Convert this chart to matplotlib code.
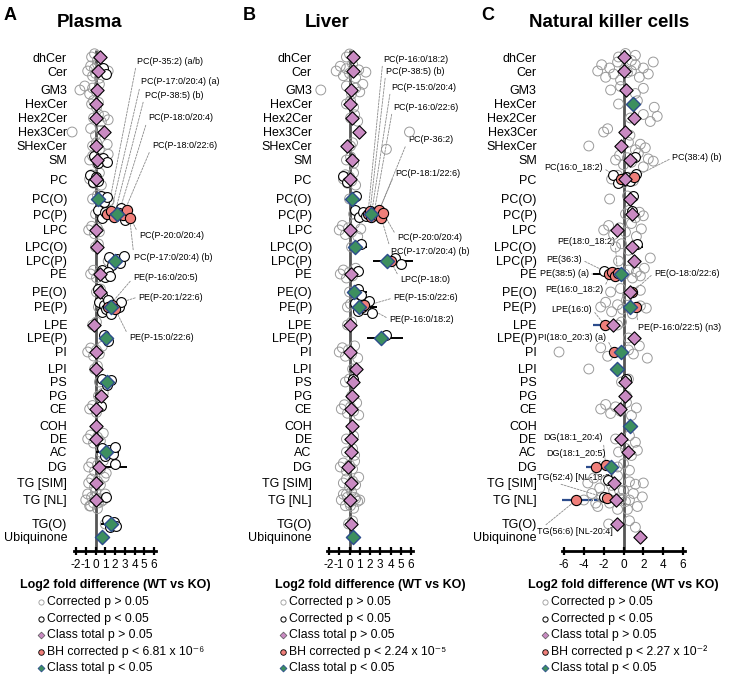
import matplotlib
matplotlib.use('Agg')
import matplotlib.pyplot as plt

plt.rcParams['font.family'] = ['Liberation Sans', 'DejaVu Sans']

# lipid classes (same order in every panel)
classes = ['dhCer', 'Cer', 'GM3', 'HexCer', 'Hex2Cer', 'Hex3Cer', 'SHexCer', 'SM',
           'PC', 'PC(O)', 'PC(P)', 'LPC', 'LPC(O)', 'LPC(P)', 'PE', 'PE(O)', 'PE(P)',
           'LPE', 'LPE(P)', 'PI', 'LPI', 'PS', 'PG', 'CE', 'COH', 'DE', 'AC', 'DG',
           'TG [SIM]', 'TG [NL]', 'TG(O)', 'Ubiquinone']
# row layout (uneven spacing, as in the original figure)
row_y = [57, 71, 90, 104, 118, 132, 146, 160, 179, 199, 214, 230, 247, 261, 274, 292,
         307, 325, 338, 352, 369, 382, 396, 409, 426, 439, 452, 467, 483, 500, 524, 537]

# ---------------- Plasma ----------------
plasma_ns = [[-0.4, -0.1, 0.2], [-0.8, -0.5, -0.3, -0.1, 0.0, 0.2, 0.4, 0.6, 0.9, 1.3],
             [-1.6, -1.1, -0.6, -0.3, 0.1, 0.4], [-0.4, -0.2, 0.1, 0.3], [-0.2, 0.3, 0.6, 0.9, 1.3],
             [-2.4, -0.5, 0.0, 0.6], [-0.3, 0.1, 0.4, 1.2], [-0.6, -0.3, 0.2, 0.6, 1.0, 1.3],
             [-0.6, -0.4, -0.2, 0.0, 0.2, 0.4, 0.6], [-0.3, 0.2, 0.6, 1.0, 1.4], [0.0, 0.4],
             [-0.7, -0.4, -0.1, 0.2, 0.4], [0.0, 0.3], [1.3], [-0.5, -0.2, 0.1, 0.4, 0.7],
             [0.1, 0.5], [0.3, 0.5], [-0.3, 0.1], [], [-0.8, -0.5, -0.2, 0.1, 0.4, 0.7],
             [-0.1, 0.2], [0.4], [0.3, 0.8], [-0.6, -0.3, 0.1, 0.3], [],
             [-0.8, -0.5, -0.2, 0.2, 0.5, 0.8], [0.5], [-0.7, -0.4, -0.1, 0.2, 0.5, 0.8, 1.1],
             [-0.7, -0.4, -0.1, 0.2, 0.5, 0.9],
             [-1.0, -0.8, -0.6, -0.4, -0.2, 0.0, 0.2, 0.4, 0.6, 0.8, 1.0, -0.5, -0.1, 0.3],
             [1.0], []]
plasma_sig = {'Cer': [0.8, 1.1], 'SM': [-0.2, 0.3, 0.8, 1.2], 'PC': [-0.6, -0.3, 0.0, 0.3],
              'PC(O)': [0.6, 0.9, 1.2], 'PC(P)': [0.3, 0.7, 1.0, 2.0, 2.6, 3.0],
              'LPC(P)': [1.4, 1.7, 2.2, 2.5, 2.9], 'PE': [0.7, 1.0, 1.3, 1.5], 'PE(O)': [0.3, 0.7],
              'PE(P)': [0.4, 0.7, 0.9, 1.1, 1.3, 1.6, 1.9, 2.1, 2.4, 2.6], 'LPE(P)': [0.9, 1.3],
              'PS': [0.7, 1.2, 1.6], 'CE': [0.6], 'AC': [0.7, 1.0, 1.4, 1.8, 2.0], 'DG': [2.0],
              'TG [NL]': [1.1], 'TG(O)': [1.2, 1.5, 1.9, 2.1]}
plasma_bh = {'PC(P)': [1.2, 1.6, 1.9, 2.4, 2.8, 3.2, 3.5], 'PE(P)': [1.3, 1.7, 2.0]}
plasma_total = [0.45, 0.25, 0.2, 0.1, 0.05, 0.85, 0.0, 0.15, 0.0, 0.3, 2.25, 0.0, 0.15, 1.95,
                0.45, 0.5, 1.6, -0.2, 1.05, 0.0, 0.0, 1.15, 0.6, 0.0, 0.05, 0.0, 1.1, 0.35,
                0.0, 0.1, 1.6, 0.7]
plasma_total_sig = ['PC(O)', 'PC(P)', 'LPC(P)', 'PE(P)', 'LPE(P)', 'PS', 'AC', 'TG(O)', 'Ubiquinone']
plasma_err = [('AC', 1.2, 1.2), ('DG', 2.0, 1.2), ('TG(O)', 1.6, 1.05)]
plasma_bh_err = []
plasma_labels = [('PC(P-35:2) (a/b)', 'PC(P)', 1.2, 137, 61, 'left'),
                 ('PC(P-17:0/20:4) (a)', 'PC(P)', 1.6, 141, 82, 'left'),
                 ('PC(P-38:5) (b)', 'PC(P)', 1.9, 145, 95, 'left'),
                 ('PC(P-18:0/20:4)', 'PC(P)', 2.4, 148, 118, 'left'),
                 ('PC(P-18:0/22:6)', 'PC(P)', 2.8, 152, 146, 'left'),
                 ('PC(P-20:0/20:4)', 'PC(P)', 3.2, 139, 235, 'left'),
                 ('PC(P-17:0/20:4) (b)', 'PC(P)', 3.5, 134, 257, 'left'),
                 ('PE(P-16:0/20:5)', 'PE(P)', 1.3, 133, 278, 'left'),
                 ('PE(P-20:1/22:6)', 'PE(P)', 1.7, 138, 297, 'left'),
                 ('PE(P-15:0/22:6)', 'PE(P)', 2.0, 129, 337, 'left')]

# ---------------- Liver ----------------
liver_ns = [[-0.3, 0.0], [-1.3, -0.9, -0.6, -0.3, 0.0, 0.3, 0.6, 0.9, 1.6],
            [-2.8, -0.3, 0.2, 0.6, 1.0, 1.3], [-0.3, 0.1, 0.4], [0.1, 0.5, 0.8], [5.85],
            [0.1, 0.3, 3.6], [-0.3, 0.1, 0.4], [-0.6, -0.4, -0.2, 0.0, 0.2, 0.4, 0.6], [0.0],
            [0.4], [-1.0, -0.7, -0.4, -0.1, 0.2, 0.5, 0.8, 1.1], [0.2], [],
            [-0.9, -0.6, -0.3, 0.0, 0.3, 0.6], [0.0], [-0.2, 0.1], [-0.2, 0.2], [],
            [-1.0, -0.7, -0.4, -0.1, 0.2, 0.5, 0.8], [0.3], [-0.4, 0.0], [0.2],
            [-0.8, -0.5, -0.2, 0.1, 0.4, 0.7, 0.9], [], [-0.3, 0.4], [-0.3, 0.3, 0.5],
            [-0.9, -0.6, -0.3, 0.0, 0.3, 0.5], [-0.6, -0.3, 0.0, 0.3, 0.6, 0.9],
            [-0.8, -0.6, -0.4, -0.2, 0.0, 0.2, 0.4, 0.6, 0.8, 1.0, -0.3, 0.1, 0.5],
            [-0.1, 0.3], []]
liver_sig = {'PC': [-0.65, -0.2], 'PC(O)': [0.6], 'PC(P)': [0.5, 0.9, 1.3, 1.6],
             'LPC(O)': [1.1], 'LPC(P)': [4.4, 5.0], 'PE': [0.8], 'PE(O)': [0.8, 1.1],
             'PE(P)': [0.5, 0.8, 1.1, 1.5, 1.9, 2.2], 'LPE(P)': [3.6], 'PS': [0.3]}
liver_bh = {'PC(P)': [1.8, 2.0, 2.1, 2.4, 2.7, 2.9, 3.1, 3.3], 'LPC(P)': [4.0], 'PE(P)': [1.2, 1.4]}
liver_total = [0.33, 0.33, 0.15, 0.0, 0.2, 0.9, -0.25, 0.2, 0.0, 0.25, 2.05, 0.0, 0.5, 3.7,
               0.1, 0.45, 0.9, 0.0, 3.1, 0.0, 0.6, 0.3, 0.25, 0.1, 0.2, 0.15, 0.1, -0.15,
               0.1, 0.0, 0.15, 0.3]
liver_total_sig = ['PC(O)', 'PC(P)', 'LPC(O)', 'LPC(P)', 'PE(O)', 'PE(P)', 'LPE(P)', 'Ubiquinone']
liver_err = [('LPC(O)', 1.2, 0.5), ('LPC(P)', 4.3, 2.0), ('PE(O)', 1.1, 0.6),
             ('PE(P)', 1.6, 1.1), ('LPE(P)', 3.45, 1.75)]
liver_bh_err = []
liver_labels = [('PC(P-16:0/18:2)', 'PC(P)', 1.8, 383, 59, 'left'),
                ('PC(P-38:5) (b)', 'PC(P)', 2.0, 386, 71, 'left'),
                ('PC(P-15:0/20:4)', 'PC(P)', 2.1, 391, 87, 'left'),
                ('PC(P-16:0/22:6)', 'PC(P)', 2.4, 393, 107, 'left'),
                ('PC(P-36:2)', 'PC(P)', 2.7, 408, 140, 'left'),
                ('PC(P-18:1/22:6)', 'PC(P)', 2.9, 395, 173, 'left'),
                ('PC(P-20:0/20:4)', 'PC(P)', 3.3, 397, 237, 'left'),
                ('PC(P-17:0/20:4) (b)', 'PC(P)', 3.1, 391, 251, 'left'),
                ('LPC(P-18:0)', 'LPC(P)', 4.0, 400, 279, 'left'),
                ('PE(P-15:0/22:6)', 'PE(P)', 1.2, 393, 298, 'left'),
                ('PE(P-16:0/18:2)', 'PE(P)', 1.4, 389, 319, 'left')]

# ---------------- Natural killer cells ----------------
nk_ns = [[-0.5, 0.2, 0.8, 1.2],
         [-2.6, -2.2, -1.8, -1.4, -1.0, -0.6, -0.3, 0.1, 0.4, 0.8, 1.2, 1.6, 2.0, 2.5, 3.0],
         [-1.3, -0.3, 1.2, 2.0], [-0.5, 1.4, 3.1], [0.7, 2.0, 2.7, 3.4], [-2.0, -1.6, 0.65],
         [-3.5, 0.5, 1.2, 1.7, 2.2], [-0.8, -0.4, 0.0, 0.4, 0.8, 1.5, 2.0, 2.5, 3.0],
         [-1.2, -0.6, 0.0, 0.5, 1.0], [-1.4, 0.4], [0.2, 0.6, 1.2, 1.6, 2.0],
         [-2.0, -1.5, -1.0, -0.4, 0.2, 0.8, 1.3, 1.8], [-0.8, -0.2, 0.5], [-0.5, 2.7],
         [0.1, 0.5, 0.9, 1.3, 1.7, 2.1], [-1.3, -0.3, 0.4, 1.7],
         [-2.3, -1.8, -1.2, -0.6, -0.1, 0.3, 0.9, 1.7, 2.3], [-0.6, -0.2], [0.5],
         [-6.5, -2.3, -1.6, 0.5, 1.0, 1.6, 2.4], [-3.5], [-0.2, 0.5], [0.3],
         [-2.3, -1.8, -1.3, -0.8, -0.3, 0.3, 0.8, 1.3], [], [-0.8, 0.6, 1.2],
         [-0.5, 0.2, 0.8, 1.4], [-0.6, 0.0, 0.6],
         [-3.6, -3.0, -2.4, -1.8, -1.2, -0.6, 0.0, 0.6, 1.2, 2.0],
         [-4.0, -3.2, -2.6, -2.2, -1.4, -1.0, -0.6, -0.2, 0.2, 0.6, 1.0, 1.4, 1.9, -2.8, -0.4, 0.4],
         [-1.5, 0.6, 1.2], []]
nk_sig = {'SM': [1.2], 'PC': [-1.1, -0.6, 0.3, 0.7, 1.3], 'PC(O)': [1.0], 'PC(P)': [0.9],
          'LPC(O)': [1.4], 'PE': [-2.0], 'PS': [0.3], 'TG [SIM]': [-1.6], 'TG [NL]': [-2.0]}
nk_bh = {'PC': [-0.3, 1.05], 'PE': [-1.5, -1.2, -0.9, -0.6], 'PE(O)': [0.9], 'PE(P)': [1.3],
         'LPE': [-1.9], 'PI': [-1.0], 'DG': [-2.8, -1.8], 'TG [NL]': [-4.75, -1.65]}
nk_total = [0.0, 0.0, 0.25, 0.95, 1.05, 0.15, -0.3, 0.65, 0.2, 0.7, 0.85, -0.65, 0.85, 1.05,
            -0.3, 0.7, 0.65, -1.05, 1.05, -0.25, -0.7, 0.2, 0.15, -0.4, 0.7, -0.3, 0.45,
            -1.3, -1.0, -0.8, -0.7, 1.7]
nk_total_sig = ['HexCer', 'PE', 'PE(P)', 'PI', 'LPI', 'COH', 'DG']
nk_err = [('LPC(O)', 1.4, 0.6), ('PE', -2.2, 0.9)]
nk_bh_err = [('LPE', -2.3, 0.8), ('DG', -2.3, 1.5), ('TG [NL]', -4.75, 1.7), ('TG [NL]', -1.65, 1.3)]
nk_labels = [('PC(38:4) (b)', 'PC', 1.05, 672, 158, 'left'),
             ('PC(16:0_18:2)', 'PC', -0.3, 603, 168, 'right'),
             ('PE(18:0_18:2)', 'PE', -0.6, 615, 241, 'right'),
             ('PE(36:3)', 'PE', -0.9, 582, 260, 'right'),
             ('PE(38:5) (a)', 'PE', -1.5, 589, 274, 'right'),
             ('PE(O-18:0/22:6)', 'PE(O)', 0.9, 654, 273, 'left'),
             ('PE(16:0_18:2)', 'PE', -1.2, 603, 290, 'right'),
             ('LPE(16:0)', 'LPE', -1.9, 592, 309, 'right'),
             ('PE(P-16:0/22:5) (n3)', 'PE(P)', 1.3, 638, 327, 'left'),
             ('PI(18:0_20:3) (a)', 'PI', -1.0, 606, 337, 'right'),
             ('DG(18:1_20:4)', 'DG', -1.8, 603, 438, 'right'),
             ('DG(18:1_20:5)', 'DG', -2.8, 606, 454, 'right'),
             ('TG(52:4) [NL-18:3]', 'TG [NL]', -1.65, 537, 477, 'left'),
             ('TG(56:6) [NL-20:4]', 'TG [NL]', -4.75, 537, 532, 'left')]

GREY = '#9a9a9a'
PINK = '#c98ac2'
SALMON = '#f07f7a'
TEAL = '#3d8f5f'
NAVY = '#2c4c8c'
spread = [0, -2.5, 2.5, -1.2, 1.2, -3.6, 3.6, -0.6, 0.6]

W, H = 729, 685
fig = plt.figure(figsize=(W / 100, H / 100), dpi=100)


def jit(i, n):
    k = 1 + n / 10.0
    return spread[i % len(spread)] * k


def draw_panel(left, right, xlim, xticks, ypad, ns, sig, bh, total, total_sig,
               err, bh_err, labels):
    ax = fig.add_axes([left / W, 1 - 551 / H, (right - left) / W, (551 - 45) / H])
    ax.set_xlim(*xlim)
    ax.set_ylim(551, 45)
    ax.vlines(0, 50, 551, color='#555555', lw=2, zorder=1)
    for c, cen, h in err:
        y = row_y[classes.index(c)]
        ax.hlines(y, cen - h, cen + h, color='black', lw=1.4, zorder=1.5)
    for c, cen, h in bh_err:
        y = row_y[classes.index(c)]
        ax.hlines(y, cen - h, cen + h, color=NAVY, lw=1.6, zorder=1.5)
    for i, c in enumerate(classes):
        y = row_y[i]
        vals = ns[i]
        if vals:
            ax.scatter(vals, [y + jit(j, len(vals)) for j in range(len(vals))], s=50,
                       facecolors='none', edgecolors=GREY, linewidths=0.7, zorder=2, clip_on=False)
        vals = sig.get(c, [])
        if vals:
            ax.scatter(vals, [y + jit(j + 1, len(vals)) for j in range(len(vals))], s=50,
                       facecolors='white', edgecolors='black', linewidths=0.8, zorder=3, clip_on=False)
        vals = bh.get(c, [])
        if vals:
            ax.scatter(vals, [y + jit(j, len(vals)) * 0.6 for j in range(len(vals))], s=54,
                       facecolors=SALMON, edgecolors='black', linewidths=0.8, zorder=4, clip_on=False)
    for i, c in enumerate(classes):
        if c in total_sig:
            ax.scatter(total[i], row_y[i], marker='D', s=52, facecolors=TEAL, edgecolors=NAVY,
                       linewidths=1.0, zorder=5, clip_on=False)
        else:
            ax.scatter(total[i], row_y[i], marker='D', s=46, facecolors=PINK, edgecolors='black',
                       linewidths=0.8, zorder=5, clip_on=False)
    for txt, c, xv, tx, ty, ha in labels:
        i = classes.index(c)
        vals = bh.get(c, [])
        yv = row_y[i]
        if xv in vals:
            j = vals.index(xv)
            yv = yv + jit(j, len(vals)) * 0.6
        ax.annotate(txt, xy=(xv, yv), xycoords='data', xytext=(tx, H - ty),
                    textcoords='figure pixels', ha=ha, va='center', fontsize=6.5,
                    annotation_clip=False, zorder=1.2,
                    arrowprops=dict(arrowstyle='-', color='#8a8a8a', lw=0.6,
                                    linestyle=(0, (2.5, 1.5)), shrinkA=0, shrinkB=3,
                                    relpos=(0 if ha == 'left' else 1, 0.5)))
    ax.set_yticks(row_y)
    ax.set_yticklabels(classes, fontsize=9)
    ax.tick_params(axis='y', length=0, pad=ypad)
    ax.set_xticks(xticks)
    ax.set_xticklabels([str(t) for t in xticks], fontsize=8.5)
    ax.tick_params(axis='x', direction='inout', length=6, width=1.6, pad=2.5)
    for s in ['top', 'right', 'left']:
        ax.spines[s].set_visible(False)
    ax.spines['bottom'].set_linewidth(2)
    ax.set_xlabel('Log2 fold difference (WT vs KO)', fontsize=9, fontweight='bold', labelpad=6)
    ax.patch.set_alpha(0)
    return ax


draw_panel(74.05, 155.95, (-2.2, 6.2), list(range(-2, 7)), 5.0,
           plasma_ns, plasma_sig, plasma_bh, plasma_total, plasma_total_sig,
           plasma_err, plasma_bh_err, plasma_labels)
draw_panel(326.95, 413.05, (-2.2, 6.2), list(range(-2, 7)), 10.9,
           liver_ns, liver_sig, liver_bh, liver_total, liver_total_sig,
           liver_err, liver_bh_err, liver_labels)
draw_panel(562.0, 685.0, (-6.2, 6.2), list(range(-6, 7, 2)), 18.2,
           nk_ns, nk_sig, nk_bh, nk_total, nk_total_sig,
           nk_err, nk_bh_err, nk_labels)

# overlay for titles and legends (figure pixel space)
ov = fig.add_axes([0, 0, 1, 1])
ov.set_xlim(0, W)
ov.set_ylim(H, 0)
ov.axis('off')
ov.patch.set_alpha(0)

for letter, lx, title, tx in [('A', 4, 'Plasma', 90), ('B', 243, 'Liver', 327),
                              ('C', 481, 'Natural killer cells', 609)]:
    ov.text(lx, 15, letter, fontsize=13, fontweight='bold', ha='left', va='center')
    ov.text(tx, 22, title, fontsize=13.5, fontweight='bold', ha='center', va='center')

legend_rows = [602, 619, 635, 652, 668]
for mx, pval in [(41, '6.81 x 10\u207b\u2076'), (283, '2.24 x 10\u207b\u2075'), (545, '2.27 x 10\u207b\u00b2')]:
    texts = ['Corrected p > 0.05', 'Corrected p < 0.05', 'Class total p > 0.05',
             'BH corrected p < ' + pval, 'Class total p < 0.05']
    ov.scatter(mx, legend_rows[0], s=14, facecolors='white', edgecolors=GREY, linewidths=0.6)
    ov.scatter(mx, legend_rows[1], s=14, facecolors='white', edgecolors='black', linewidths=0.7)
    ov.scatter(mx, legend_rows[2], s=12, marker='D', facecolors=PINK, edgecolors='#555555', linewidths=0.5)
    ov.scatter(mx, legend_rows[3], s=16, facecolors=SALMON, edgecolors='black', linewidths=0.6)
    ov.scatter(mx, legend_rows[4], s=12, marker='D', facecolors=TEAL, edgecolors=NAVY, linewidths=0.6)
    for y, t in zip(legend_rows, texts):
        ov.text(mx + 6, y, t, fontsize=8.8, ha='left', va='center')

fig.savefig('out.png', dpi=100)
